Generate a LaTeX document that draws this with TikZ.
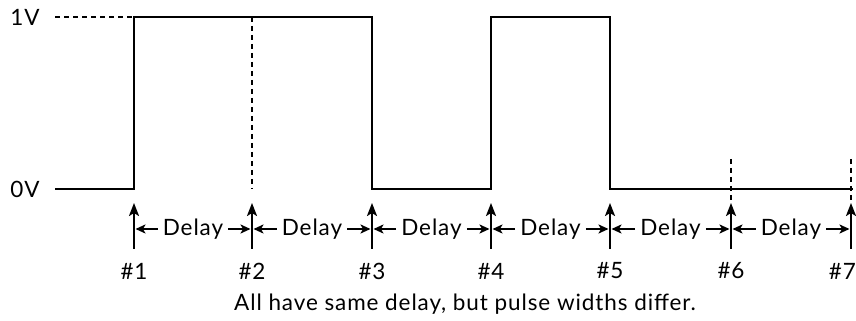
\documentclass[tikz,border=0pt]{standalone}
\usepackage{fontspec}
\setmainfont{Lato}[LetterSpace=4]
\usetikzlibrary{arrows.meta,calc}
\begin{document}
\begin{tikzpicture}[x=1pt,y=1pt,
  wave/.style={line width=2.2pt, line join=miter},
  guide/.style={line width=1.6pt, dash pattern=on 5pt off 4pt},
  trig/.style={line width=2.2pt, -{Stealth[length=13pt,width=10pt,inset=3pt]}},
  dly/.style={line width=2pt, -{Stealth[length=10pt,width=9pt,inset=2.5pt]}},
  lbl/.style={font=\fontsize{22.5}{24}\selectfont, inner sep=0pt},
]
\useasboundingbox (0,0) rectangle (856,321);
% levels: high 304, low 132
\node[lbl] (v1) at (25,304) {1V};
\node[lbl] (v0) at (25,132) {0V};
\coordinate (s0) at (55,132);
\coordinate (s1) at (55,304);
\foreach \i/\x in {1/134,2/252,3/372,4/491,5/610,6/731,7/851}{
  \coordinate (b\i) at (\x,72);
  \coordinate (t\i) at (\x,118);
  \coordinate (m\i) at (\x,92);
  \coordinate (h\i) at (\x,304);
  \coordinate (l\i) at (\x,132);
}
\foreach \i in {1,...,6}{ \node[lbl] (n\i) at ($(b\i)+(0,-22)$) {\#\i}; }
\node[lbl, anchor=east] (n7) at (856,50) {\#7};
\coordinate (e7) at (853,132);
% waveform
\draw[wave] (s0) -- (l1) -- (h1) -- (h3) -- (l3) -- (l4) -- (h4) -- (h5) -- (l5) -- (e7);
% guides
\draw[guide] (s1) -- (h1);
\draw[guide] (h2) -- (l2);
\draw[guide] (731,162) -- (t6);
\draw[guide] (851,162) -- (t7);
% trigger arrows
\foreach \i in {1,...,7}{ \draw[trig] (b\i) -- (t\i); }
% delays
\foreach \a/\b in {1/2,2/3,3/4,4/5,5/6,6/7}{
  \node[lbl] (d\a) at ($(m\a)!0.5!(m\b)$) {Delay};
  \draw[dly] ([xshift=-5pt]d\a.west) -- ([xshift=1.5pt]m\a);
  \draw[dly] ([xshift=5pt]d\a.east) -- ([xshift=-1.5pt]m\b);
}
\node[lbl] (cap) at (465,17) {All have same delay, but pulse widths differ.};
\end{tikzpicture}
\end{document}
